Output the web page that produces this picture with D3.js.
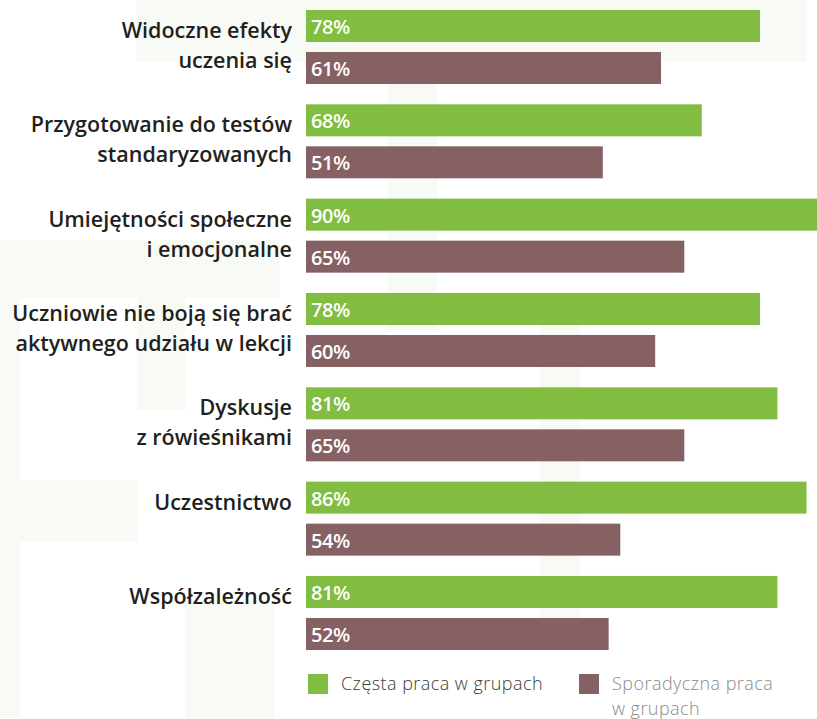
<!DOCTYPE html>
<html><head><meta charset="utf-8">
<script src="https://cdn.jsdelivr.net/npm/d3@7"></script>
<style>
html,body{margin:0;padding:0;background:#fff;}
svg{display:block;}
</style></head>
<body>
<svg id="chart" width="817" height="719"></svg>
<script>
const categories = [
  ["Widoczne efekty", "uczenia się"],
  ["Przygotowanie do testów", "standaryzowanych"],
  ["Umiejętności społeczne", "i emocjonalne"],
  ["Uczniowie nie boją się brać", "aktywnego udziału w lekcji"],
  ["Dyskusje", "z rówieśnikami"],
  ["Uczestnictwo"],
  ["Współzależność"]
];
const seriesNames = ["Częsta praca w grupach", "Sporadyczna praca w grupach"];
const legendLines = [["Częsta praca w grupach"], ["Sporadyczna praca", "w grupach"]];
const frequent = [78, 68, 90, 78, 81, 86, 81];
const occasional = [61, 51, 65, 60, 65, 54, 52];
const colors = ["#80bd41", "#866164"];

const svg = d3.select("#chart");
const FONT = "'Open Sans', sans-serif";

// faint background pattern
const bg = svg.append("g").attr("fill", "#f8faf6");
[[136,0,671,62],[388,0,49,330],[0,240,280,58],[0,298,20,420],[137,250,48,160],[0,480,137,62],
 [185,600,90,119],[540,300,40,340]].forEach(r=>{
  bg.append("rect").attr("x",r[0]).attr("y",r[1]).attr("width",r[2]).attr("height",r[3]);
});

const keys = categories.map((c,i)=>i);
const y = d3.scaleBand().domain(keys).range([10, 10 + 7*94.33]).paddingInner(0).paddingOuter(0);
const ys = d3.scaleBand().domain([0,1]).range([0, 74]).paddingInner(0.238).paddingOuter(0);
const x = d3.scaleLinear().domain([0, 100]).range([306, 888]);

const data = [];
keys.forEach(i => {
  data.push({cat:i, s:0, v:frequent[i]});
  data.push({cat:i, s:1, v:occasional[i]});
});

svg.append("g").selectAll("rect").data(data).join("rect")
  .attr("x", x(0))
  .attr("y", d => y(d.cat) + ys(d.s))
  .attr("width", d => x(d.v) - x(0))
  .attr("height", ys.bandwidth())
  .attr("fill", d => colors[d.s]);

svg.append("g").selectAll("text").data(data).join("text")
  .attr("x", x(0) + 5)
  .attr("y", d => y(d.cat) + ys(d.s) + 24)
  .attr("fill", "#fff")
  .attr("font-family", FONT)
  .attr("font-weight", 600)
  .attr("font-size", 20)
  .attr("letter-spacing", -0.4)
  .text(d => d.v + "%");

const lab = svg.append("g")
  .attr("font-family", FONT)
  .attr("font-weight", 600)
  .attr("font-size", 21.5)
  .attr("fill", "#231f20")
  .attr("text-anchor", "end");
categories.forEach((lines, i) => {
  lines.forEach((t, j) => {
    lab.append("text")
      .attr("x", 292)
      .attr("y", y(i) + 28 + j*30)
      .text(t);
  });
});

// legend
const leg = svg.append("g").attr("font-family", FONT).attr("font-weight", 300)
  .attr("font-size", 18).attr("letter-spacing", 0.45);
const legX = [308, 579];
const legFill = ["#3a3a3a", "#8a8a8a"];
legendLines.forEach((lines, k) => {
  leg.append("rect").attr("x", legX[k]).attr("y", 674).attr("width", 20).attr("height", 20).attr("fill", colors[k]);
  lines.forEach((t, j) => {
    leg.append("text").attr("x", legX[k] + 33).attr("y", 690 + j*25).attr("fill", legFill[k]).text(t);
  });
});
</script>
</body></html>
